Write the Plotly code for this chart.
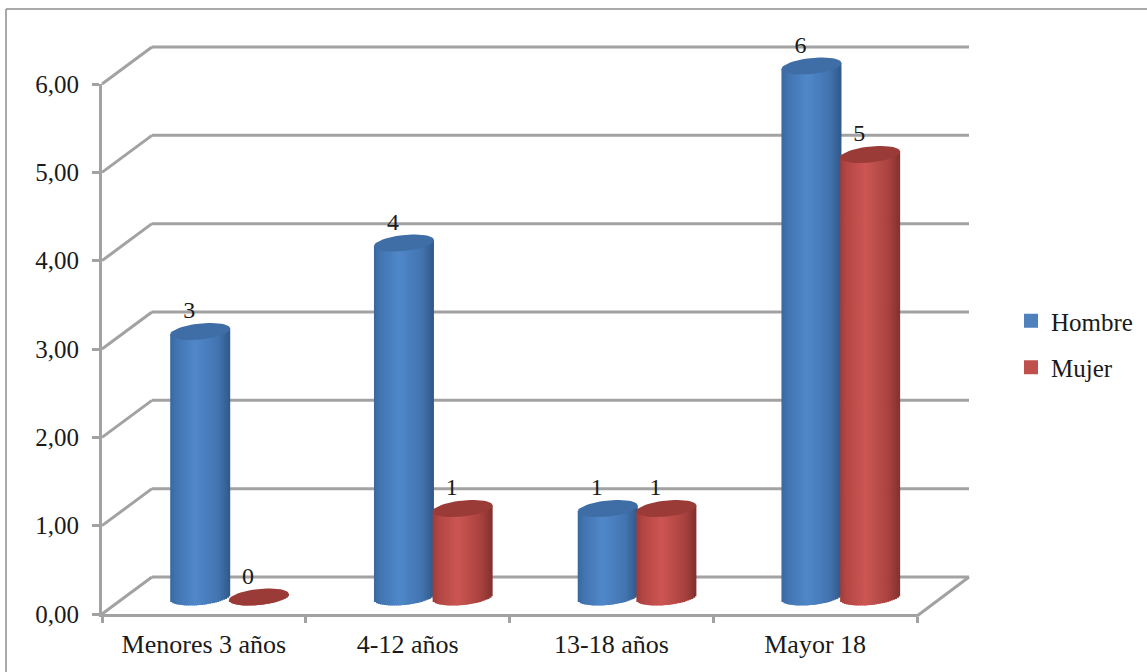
import math
import plotly.graph_objects as go

categories = ["Menores 3 años", "4-12 años", "13-18 años", "Mayor 18"]
hombre = [3, 4, 1, 6]
mujer = [0, 1, 1, 5]
y_ticks = [0, 1, 2, 3, 4, 5, 6]

W, H = 1147, 672
FONT = "Liberation Serif"
FS = 25
TXT = "#1a1a1a"
GRID = "#a2a2a2"
X0, X1 = 102, 917      # front floor, px
Y0, Y6 = 614, 84       # value 0 and 6 on the axis, px
BX, BY = 50, 37        # depth offset of the back wall, px
BACK_END = 969
BASE_PX, TOP_PX = 597, 66  # bars' value 0 and 6, px
PXU = (X1 - X0) / 4
PYU = (BASE_PX - TOP_PX) / 6
R_PX, B_PX, TILT_PX = 30.0, 8.0, 3.0
N = 30
Y2_LOW, Y2_HIGH = -0.4, 6.6   # roomy hidden value axis so marks are not clipped


def px(x):
    return x / W


def py(y):
    return 1 - y / H


def mix(stops, u):
    for (a, ca), (b, cb) in zip(stops, stops[1:]):
        if a <= u <= b:
            t = (u - a) / (b - a)
            c = [round(p + (q - p) * t) for p, q in zip(ca, cb)]
            return "rgb(%d,%d,%d)" % tuple(c)
    return "rgb(%d,%d,%d)" % tuple(stops[-1][1])


BLUE = [(0, (58, 104, 160)), (0.1, (66, 116, 176)), (0.42, (80, 136, 202)),
        (0.8, (66, 116, 176)), (1, (48, 88, 136))]
RED = [(0, (158, 60, 57)), (0.1, (178, 70, 67)), (0.42, (204, 86, 82)),
       (0.8, (170, 66, 63)), (1, (128, 48, 45))]

fig = go.Figure()


def cylinder(values, shift, stops, cap):
    cw = 2 * R_PX / PXU
    for k in range(N):
        u = (k + 0.5) / N
        s = 2 * u - 1
        bottom = -B_PX * math.sqrt(max(1 - s * s, 0)) / PYU + TILT_PX * s / PYU
        top = TILT_PX * s / PYU
        fig.add_trace(go.Bar(
            x=categories,
            y=[v + top - bottom for v in values],
            base=[bottom] * len(values),
            offset=shift - cw / 2 + k * cw / N,
            width=cw / N * 1.4 if k < N - 1 else cw / N,
            marker=dict(color=mix(stops, u), line=dict(width=0)),
            yaxis="y2", showlegend=False, hoverinfo="skip",
        ))
    # elliptical top of each cylinder
    for i, v in enumerate(values):
        ts = [2 * math.pi * j / 48 for j in range(49)]
        fig.add_trace(go.Scatter(
            x=[i + shift + R_PX / PXU * math.cos(t) for t in ts],
            y=[v + (B_PX * math.sin(t) + TILT_PX * math.cos(t)) / PYU for t in ts],
            mode="lines", fill="toself", fillcolor=cap, line=dict(width=0, color=cap),
            xaxis="x2", yaxis="y2", showlegend=False, hoverinfo="skip",
        ))


SH, SM = -0.018, 0.27
cylinder(hombre, SH, BLUE, "#3f6ea6")
cylinder(mujer, SM, RED, "#9a3b38")

# data labels
for vals, sh in ((hombre, SH), (mujer, SM)):
    fig.add_trace(go.Scatter(
        x=[i + sh - 11 / PXU for i in range(len(vals))],
        y=[v + 19 / PYU for v in vals],
        text=[str(v) for v in vals],
        mode="text", textposition="middle center",
        textfont=dict(family=FONT, size=24, color=TXT),
        xaxis="x2", yaxis="y2", showlegend=False, hoverinfo="skip",
    ))

# legend entries, also anchoring the visible axes
for name, col in (("Hombre", "#4f81bd"), ("Mujer", "#c0504d")):
    fig.add_trace(go.Scatter(
        x=categories, y=[None] * len(categories), name=name, legendgroup=name,
        mode="markers", marker=dict(symbol="square", size=14, color=col),
    ))

# walls: depth lines and back gridlines
shapes = []


def seg(x0, y0, x1, y1):
    shapes.append(dict(type="line", xref="paper", yref="paper", layer="below",
                       x0=px(x0), y0=py(y0), x1=px(x1), y1=py(y1),
                       line=dict(color=GRID, width=3)))


for t in y_ticks:
    y = Y0 + (Y6 - Y0) * t / 6
    seg(X0, y, X0 + BX, y - BY)
    seg(X0 + BX, y - BY, BACK_END, y - BY)
seg(X1, Y0 + 2, BACK_END, Y0 - BY)

# outer frame
for a in ((6, 9, W, 9), (6, 9, 6, H)):
    shapes.append(dict(type="line", xref="paper", yref="paper", layer="below",
                       x0=px(a[0]), y0=py(a[1]), x1=px(a[2]), y1=py(a[3]),
                       line=dict(color="#8c8c8c", width=1.5)))

fig.update_layout(
    template="none",
    width=W, height=H, autosize=False,
    margin=dict(l=0, r=0, t=0, b=0, pad=0),
    paper_bgcolor="white", plot_bgcolor="rgba(0,0,0,0)",
    barmode="overlay", separators=", ",
    shapes=shapes,
    font=dict(family=FONT, size=FS, color=TXT),
    showlegend=True,
    legend=dict(x=px(1011), y=py(298),
                xanchor="left", yanchor="top",
                font=dict(family=FONT, size=FS, color=TXT),
                traceorder="grouped", tracegroupgap=11,
                bgcolor="rgba(0,0,0,0)", itemclick=False, itemdoubleclick=False),
    xaxis=dict(domain=[px(X0), px(X1)], type="category", categoryorder="array",
               categoryarray=categories, range=[-0.5, 3.5], tickson="boundaries",
               ticks="outside", ticklen=6, tickwidth=2.5, tickcolor=GRID,
               showline=True, linecolor=GRID, linewidth=3, showgrid=False,
               zeroline=False, anchor="y", ticklabelstandoff=5, automargin=False,
               tickfont=dict(family=FONT, size=26, color=TXT)),
    yaxis=dict(domain=[py(Y0), py(Y6)], range=[0, 6], tickvals=y_ticks,
               tickformat=".2f", ticks="outside", ticklen=7, tickwidth=2.5,
               tickcolor=GRID, showline=True, linecolor=GRID, linewidth=3,
               showgrid=False, zeroline=False, anchor="x", ticklabelstandoff=8,
               automargin=False, tickfont=dict(family=FONT, size=FS, color=TXT)),
    xaxis2=dict(overlaying="x", range=[-0.5, 3.5], visible=False, anchor="y2",
                automargin=False),
    yaxis2=dict(domain=[py(BASE_PX - Y2_LOW * PYU), py(BASE_PX - Y2_HIGH * PYU)],
                range=[Y2_LOW, Y2_HIGH], visible=False, anchor="x", automargin=False),
)

fig.write_html("out.html", config={"displayModeBar": False},
               post_script="document.body.style.margin='0';document.documentElement.style.overflow='hidden';")
